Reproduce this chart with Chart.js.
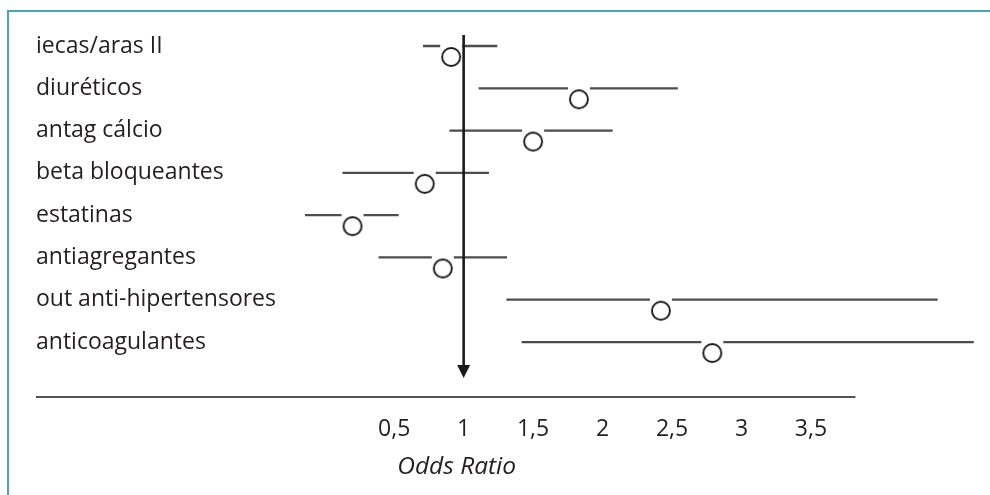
<!DOCTYPE html>
<html>
<head>
<meta charset="utf-8">
<script src="https://cdn.jsdelivr.net/npm/chart.js@4/dist/chart.umd.min.js"></script>
<style>
  html, body { margin: 0; padding: 0; background: #ffffff; }
  #wrap { position: relative; width: 990px; height: 495px; overflow: hidden; }
  #frame { position: absolute; left: 7px; top: 10px; right: -10px; bottom: -10px;
           border-top: 2px solid #47a8b5; border-left: 2px solid #47a8b5; pointer-events: none; }
  canvas { position: absolute; left: 0; top: 0; }
</style>
</head>
<body>
<div id="wrap">
  <canvas id="c" width="990" height="495"></canvas>
  <div id="frame"></div>
</div>
<script>
// ---- data ----
const ROW_LABELS = ['iecas/aras II', 'diuréticos', 'antag cálcio', 'beta bloqueantes',
                    'estatinas', 'antiagregantes', 'out anti-hipertensores', 'anticoagulantes'];
const ODDS_RATIO = [0.91, 1.83, 1.50, 0.72, 0.20, 0.85, 2.42, 2.79];
const CI_LOW     = [0.71, 1.11, 0.90, 0.13, -0.14, 0.39, 1.31, 1.42];
const CI_HIGH    = [1.24, 2.54, 2.07, 1.18, 0.53, 1.31, 4.41, 4.67];
const X_TICKS    = [0.5, 1, 1.5, 2, 2.5, 3, 3.5];
const REFERENCE_VALUE = 1;
const X_TITLE = 'Odds Ratio';

// ---- scale extents / decoration settings ----
const X_MIN = -0.25, X_MAX = 4.71;
const Y_MIN = -0.26, Y_MAX = 8.3;
const AXIS_LINE_END = 3.82;   // x value where the horizontal axis line stops
const ARROW_END = 7.85;       // y value of the arrow tip
const TITLE_AT = 0.95;        // x value where the axis title is centred
const FONT = '"Open Sans", "DejaVu Sans", sans-serif';
const TEXT = '#231f20';

// open circle ("O") drawn just below the CI line, masking the line beneath it
function makeMarker() {
  const cv = document.createElement('canvas');
  cv.width = 24; cv.height = 46;
  const g = cv.getContext('2d');
  g.fillStyle = '#ffffff';
  g.fillRect(1, 21, 22, 4);
  g.beginPath();
  g.arc(12, 34, 9, 0, Math.PI * 2);
  g.fillStyle = '#ffffff';
  g.fill();
  g.lineWidth = 1.9;
  g.strokeStyle = '#1a1a1a';
  g.stroke();
  return cv;
}
const marker = makeMarker();

const ciData = ROW_LABELS.map((_, i) => ({ y: i, x: [CI_LOW[i], CI_HIGH[i]] }));
const orData = ROW_LABELS.map((_, i) => ({ x: ODDS_RATIO[i], y: i }));

const decorations = {
  id: 'decorations',
  afterDatasetsDraw(chart) {
    const ctx = chart.ctx;
    const x = chart.scales.x, y = chart.scales.y;
    const ca = chart.chartArea;
    ctx.save();
    // horizontal axis line
    ctx.strokeStyle = '#1a1a1a';
    ctx.lineWidth = 1.6;
    ctx.beginPath();
    ctx.moveTo(y.left, ca.bottom);
    ctx.lineTo(x.getPixelForValue(AXIS_LINE_END), ca.bottom);
    ctx.stroke();
    // reference arrow at OR = 1
    const ax = x.getPixelForValue(REFERENCE_VALUE);
    const tip = y.getPixelForValue(ARROW_END);
    ctx.strokeStyle = '#1a1a1a';
    ctx.lineWidth = 2.6;
    ctx.beginPath();
    ctx.moveTo(ax, ca.top);
    ctx.lineTo(ax, tip - 10);
    ctx.stroke();
    ctx.fillStyle = '#1a1a1a';
    ctx.beginPath();
    ctx.moveTo(ax - 6.5, tip - 13);
    ctx.lineTo(ax + 6.5, tip - 13);
    ctx.lineTo(ax, tip);
    ctx.closePath();
    ctx.fill();
    // axis title
    ctx.fillStyle = TEXT;
    ctx.font = 'italic 24.5px ' + FONT;
    ctx.textAlign = 'center';
    ctx.textBaseline = 'middle';
    ctx.fillText(X_TITLE, x.getPixelForValue(TITLE_AT), ca.bottom + 70);
    ctx.restore();
  }
};

new Chart(document.getElementById('c'), {
  type: 'bar',
  data: {
    datasets: [
      {
        type: 'scatter',
        label: 'OR',
        data: orData,
        pointStyle: marker,
        pointRadius: 10,
        pointHoverRadius: 10,
        order: 0
      },
      {
        type: 'bar',
        label: 'IC',
        data: ciData,
        backgroundColor: '#4d4d4d',
        borderWidth: 0,
        barThickness: 1.6,
        order: 1
      }
    ]
  },
  options: {
    indexAxis: 'y',
    responsive: false,
    animation: false,
    layout: { padding: { left: 36, right: 10, top: 35, bottom: 0 } },
    plugins: { legend: { display: false }, tooltip: { enabled: false } },
    scales: {
      x: {
        type: 'linear',
        position: 'bottom',
        offset: false,
        min: X_MIN, max: X_MAX,
        grid: { display: false, drawTicks: false, offset: false },
        border: { display: false },
        afterBuildTicks(scale) { scale.ticks = X_TICKS.map(v => ({ value: v })); },
        afterFit(scale) { scale.height = 98; },
        ticks: {
          padding: 19,
          color: TEXT,
          font: { family: FONT, size: 23 },
          callback: v => String(v).replace('.', ',')
        }
      },
      y: {
        type: 'linear',
        position: 'left',
        reverse: true,
        offset: false,
        min: Y_MIN, max: Y_MAX,
        grid: { display: false, drawTicks: false, offset: false },
        border: { display: false },
        afterBuildTicks(scale) { scale.ticks = ROW_LABELS.map((_, i) => ({ value: i })); },
        afterFit(scale) { scale.width = 254; },
        ticks: {
          crossAlign: 'far',
          padding: 0,
          color: TEXT,
          font: { family: FONT, size: 23 },
          callback: v => ROW_LABELS[v]
        }
      }
    }
  },
  plugins: [decorations]
});
</script>
</body>
</html>
